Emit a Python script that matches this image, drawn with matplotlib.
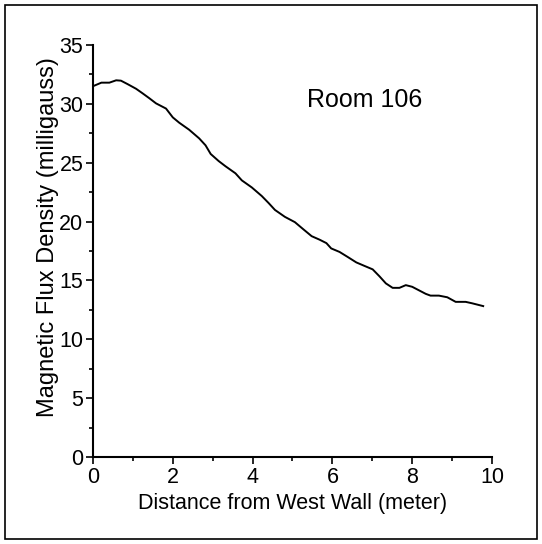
import numpy as np
import matplotlib
matplotlib.use("Agg")
import matplotlib.pyplot as plt
from matplotlib.patches import Rectangle
from matplotlib.ticker import MultipleLocator

# === DATA ===
distance = [0.0, 0.21, 0.41, 0.58, 0.70, 0.87, 1.08, 1.24, 1.41, 1.58, 1.83,
            2.00, 2.16, 2.41, 2.66, 2.82, 2.95, 3.15, 3.32, 3.57, 3.73, 3.98,
            4.23, 4.40, 4.56, 4.81, 5.06, 5.27, 5.48, 5.68, 5.85, 5.97, 6.18,
            6.39, 6.60, 6.80, 7.01, 7.18, 7.34, 7.51, 7.68, 7.84, 8.00, 8.17,
            8.34, 8.46, 8.67, 8.88, 9.09, 9.34, 9.50, 9.78]
flux = [31.5, 31.8, 31.8, 32.0, 31.97, 31.67, 31.28, 30.9, 30.48, 30.04, 29.6,
        28.85, 28.4, 27.8, 27.07, 26.48, 25.74, 25.14, 24.7, 24.1, 23.5, 22.9,
        22.17, 21.58, 20.99, 20.4, 19.95, 19.35, 18.76, 18.46, 18.17, 17.72, 17.42,
        16.98, 16.53, 16.24, 15.94, 15.35, 14.75, 14.37, 14.37, 14.6, 14.46, 14.16,
        13.86, 13.71, 13.71, 13.57, 13.18, 13.18, 13.06, 12.82]

X_TICKS = [0, 2, 4, 6, 8, 10]
Y_TICKS = [0, 5, 10, 15, 20, 25, 30, 35]

plt.rcParams['font.family'] = ['Liberation Sans', 'DejaVu Sans']

fig = plt.figure(figsize=(5.42, 5.44), dpi=100)
ax = fig.add_axes([0.1716, 0.1599, 0.7361, 0.7574])

ax.plot(distance, flux, color='black', linewidth=1.4)

ax.set_xlim(0, 10)
ax.set_ylim(0, 35)
ax.set_xticks(X_TICKS)
ax.set_yticks(Y_TICKS)
ax.xaxis.set_minor_locator(MultipleLocator(1))
ax.yaxis.set_minor_locator(MultipleLocator(2.5))
ax.tick_params(which='major', direction='out', length=5, width=1.2, labelsize=15.5, pad=2)
ax.tick_params(which='minor', direction='out', length=3, width=1.2)

for side in ['top', 'right']:
    ax.spines[side].set_visible(False)
for side in ['left', 'bottom']:
    ax.spines[side].set_linewidth(1.5)

ax.set_xlabel("Distance from West Wall (meter)", fontsize=15.5, labelpad=4)
ax.set_ylabel("Magnetic Flux Density (milligauss)", fontsize=17)
ax.yaxis.set_label_coords(-0.085, 0.534)

ax.text(6.8, 30.3, "Room 106", fontsize=18, ha='center', va='center')

# frame around the whole picture
fig.patches.append(Rectangle((5 / 542, 5 / 544), 532 / 542, 534 / 544,
                             transform=fig.transFigure, fill=False,
                             edgecolor='black', linewidth=1.2))

fig.savefig("out.png", dpi=100)
